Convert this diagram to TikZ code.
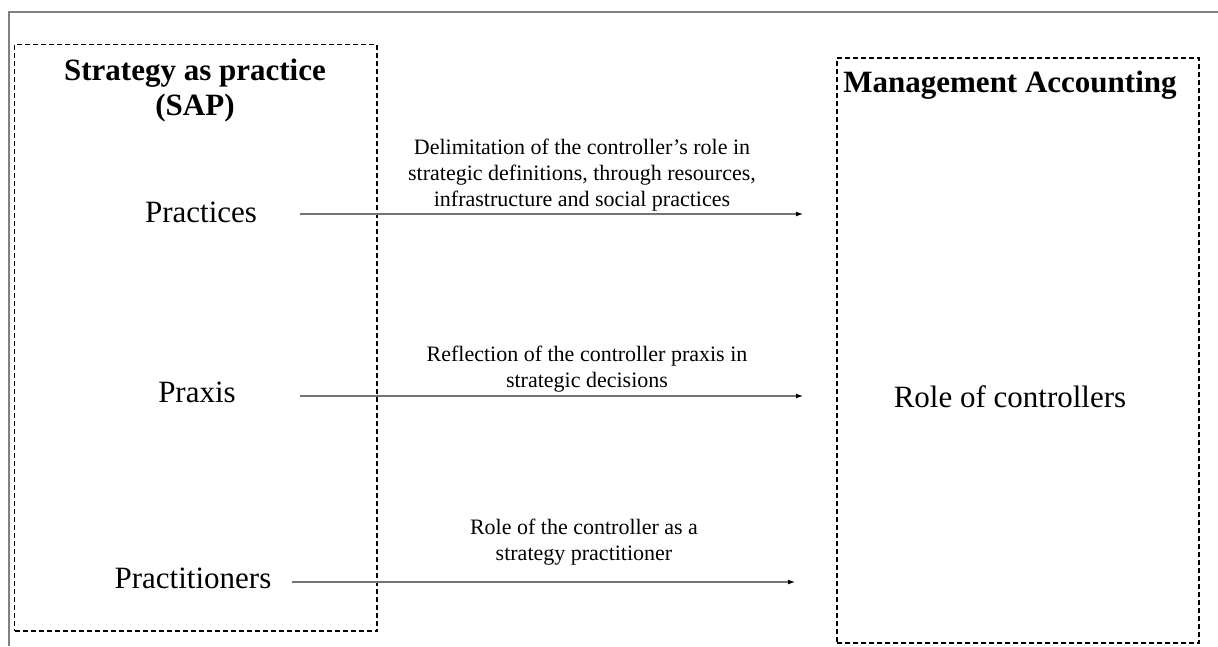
\documentclass[tikz,border=0pt]{standalone}
\usepackage{fontspec}
\setmainfont{Liberation Serif}
\usetikzlibrary{arrows.meta}

\begin{document}
\begin{tikzpicture}[x=1pt,y=-1pt]
    \tikzstyle{panel}=[draw,dash pattern=on 5pt off 3pt,line width=1.1pt,inner sep=0pt]
    \tikzstyle{heading}=[font=\fontsize{31}{35}\selectfont\bfseries,align=center,inner sep=0pt]
    \tikzstyle{saplabel}=[font=\fontsize{31}{35}\selectfont,inner sep=0pt,anchor=base]
    \tikzstyle{note}=[font=\fontsize{22}{26}\selectfont,align=center,inner sep=0pt,anchor=base]
    \tikzstyle{link}=[draw=black!55,line width=1.2pt,-{Latex[length=7pt,width=5pt,color=black]}]
    \useasboundingbox (0,0) rectangle (1218,646);
    \draw[black!50,line width=2pt] (9,646) -- (9,12) -- (1218,12);

    \node[panel,minimum width=362.5pt,minimum height=586.5pt] (sap) at (195.75,337.75) {};
    \node[panel,minimum width=362pt,minimum height=585pt] (ma) at (1018,350.5) {};

    \node[heading,anchor=base] (sapTitle) at (195,115) {Strategy as practice\\(SAP)};
    \node[heading,anchor=base] (maTitle) at (1010,92) {Management Accounting};

    \node[saplabel] (practices) at (201,222) {Practices};
    \node[saplabel] (praxis) at (197,402) {Praxis};
    \node[saplabel] (practitioners) at (193,588) {Practitioners};
    \node[saplabel] (role) at (1010,407) {Role of controllers};

    \coordinate (practicesA) at (300,214);
    \coordinate (practicesB) at (803,214);
    \coordinate (praxisA) at (300,396);
    \coordinate (praxisB) at (803,396);
    \coordinate (practitionersA) at (292,582);
    \coordinate (practitionersB) at (795,582);

    \draw[link] (practicesA) -- (practicesB);
    \draw[link] (praxisA) -- (praxisB);
    \draw[link] (practitionersA) -- (practitionersB);

    \node[note] (practicesNote) at (582,206)
      {Delimitation of the controller’s role in\\strategic definitions, through resources,\\infrastructure and social practices};
    \node[note] (praxisNote) at (587,387)
      {Reflection of the controller praxis in\\strategic decisions};
    \node[note] (practitionersNote) at (584,560)
      {Role of the controller as a\\strategy practitioner};
\end{tikzpicture}
\end{document}
